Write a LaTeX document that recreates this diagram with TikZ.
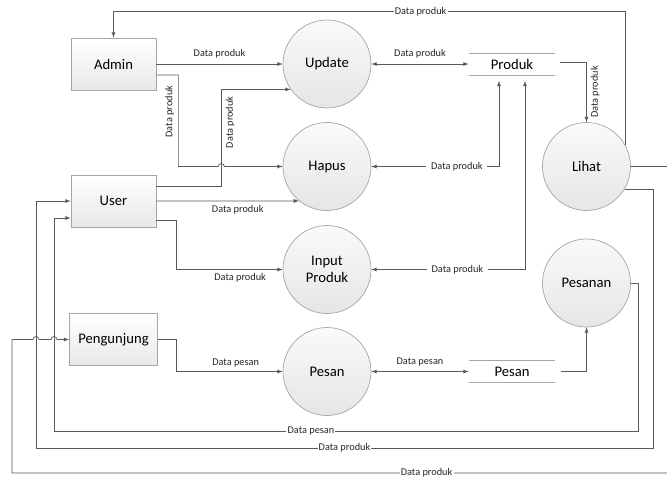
\documentclass[tikz,border=0pt]{standalone}
\usepackage{fontspec}
\setmainfont{Carlito}
\usetikzlibrary{calc,arrows}

\begin{document}
\begin{tikzpicture}[>=latex, line width=0.6pt]
		\tikzstyle{entity} =[draw=gray!70, minimum width=2.55cm, minimum height=1.56cm, top color=white, bottom color=gray!18, font=\fontsize{12.5}{15}\selectfont];
		\tikzstyle{process} =[circle, draw=gray!70, minimum size=2.64cm, inner sep=0pt, top color=gray!4, bottom color=gray!20, align=center, font=\fontsize{12.5}{15}\selectfont];
		\tikzstyle{store} =[minimum width=2.58cm, minimum height=0.63cm, inner sep=0pt, font=\fontsize{12.5}{15}\selectfont];
		\tikzstyle{flow} =[draw=black!65, ->];
		\tikzstyle{lbl} =[font=\fontsize{8.8}{10}\selectfont, text=black!85];
		\tikzstyle{onlbl} =[lbl, fill=white, inner sep=1pt];
		
		\useasboundingbox (0,0) rectangle (20.01,-14.31);
		
		\node[entity] (admin) at (3.405,-1.92) {Admin};
		\node[entity, below of = admin, node distance=4.11cm] (user) {User};
		\node[entity, below of = user, node distance=4.155cm, minimum width=2.64cm] (pengunjung) {Pengunjung};
		
		\node[process, right of = admin, node distance=6.405cm] (update) {Update};
		\node[process, below of = update, node distance=3.075cm] (hapus) {Hapus};
		\node[process, below of = hapus, node distance=3.09cm] (input) {Input\\Produk};
		\node[process, below of = input, node distance=3.06cm] (pesan) {Pesan};
		\node[process, right of = hapus, node distance=7.785cm] (lihat) {Lihat};
		\node[process, below of = lihat, node distance=3.495cm] (pesanan) {Pesanan};
		
		\node[store, right of = update, node distance=5.55cm] (produk) {Produk};
		\node[store, right of = pesan, node distance=5.55cm] (pesanstore) {Pesan};
		\draw[gray!70] (produk.north west) -- (produk.north east) (produk.south west) -- (produk.south east);
		\draw[gray!70] (pesanstore.north west) -- (pesanstore.north east) (pesanstore.south west) -- (pesanstore.south east);
		
		% return lines on the left and right
		\coordinate (loopA) at (1.08,0);
		\coordinate (loopB) at (1.62,0);
		\coordinate (loopC) at (0.36,0);
		\coordinate (rimA) at (19.59,-13.44);
		\coordinate (rimB) at (19.14,-12.93);
		\coordinate (rimC) at (20.1,-14.19);
		
		\draw[flow] (admin.east) -- node[lbl, above=1pt] {Data produk} (admin.east -| update.west);
		\draw[flow] ([yshift=0.45cm]user.east) -- ++(1.95,0) coordinate (ucol) |- node[lbl, pos=0.33, rotate=90, below] {Data produk} (update.215);
		\draw[flow] ([yshift=-0.33cm]admin.east) -- ++(0.66,0) coordinate (acol) -- node[lbl, pos=0.4, rotate=90, above] {Data produk} (acol |- hapus) -- ($(ucol |- hapus)+(-0.09,0)$) arc[start angle=180, end angle=0, radius=0.09] -- (hapus.west);
		\draw[flow] (user.east) -- node[lbl, below, pos=0.57] {Data produk} (hapus.231);
		\draw[flow] ([yshift=-0.57cm]user.east) -- ++(0.6,0) |- node[lbl, below, pos=0.8] {Data produk} (input.west);
		\draw[flow] (pengunjung.east) -- ++(0.54,0) |- node[lbl, above, pos=0.78] {Data pesan} (pesan.west);
		
		\draw[flow, <->] (update.east) -- node[lbl, above=1pt] {Data produk} (update.east -| produk.west);
		\draw[flow, <->] ([xshift=-0.39cm, yshift=-0.18cm]produk.south) |- node[lbl, fill=white, inner sep=4pt, pos=0.665] {Data produk} (hapus.east);
		\draw[flow, <->] ([xshift=0.39cm, yshift=-0.18cm]produk.south) |- node[lbl, fill=white, inner sep=4pt, pos=0.72] {Data produk} (input.east);
		\draw[flow] ([xshift=0.15cm, yshift=0.06cm]produk.east) -| node[lbl, pos=0.75, rotate=90, below] {Data produk} (lihat.north);
		\draw[flow, <->] (pesan.east) -- node[lbl, above=1pt] {Data pesan} (pesan.east -| pesanstore.west);
		\draw[flow] ([xshift=0.18cm]pesanstore.east) -| (pesanan.south);
		
		\draw[flow] (lihat.29) |- node[onlbl, pos=0.7] {Data produk} ([yshift=0.78cm]admin.north) -- (admin.north);
		\draw[flow] (lihat.-31) -| (rimA) -- node[onlbl] {Data produk} (rimA -| loopA) |- (user.west);
		\draw[flow] (pesanan.east) -| (rimB) -- node[onlbl, pos=0.56] {Data pesan} (rimB -| loopB) |- ([yshift=-0.51cm]user.west);
		\draw[flow] (lihat.east) -| (rimC) -- node[onlbl, pos=0.37] {Data produk} (rimC -| loopC) -- (loopC |- pengunjung.west) -- ($(loopA |- pengunjung.west)+(-0.09,0)$) arc[start angle=180, end angle=0, radius=0.09] -- ($(loopB |- pengunjung.west)+(-0.09,0)$) arc[start angle=180, end angle=0, radius=0.09] -- (pengunjung.west);
	\end{tikzpicture}
\end{document}
